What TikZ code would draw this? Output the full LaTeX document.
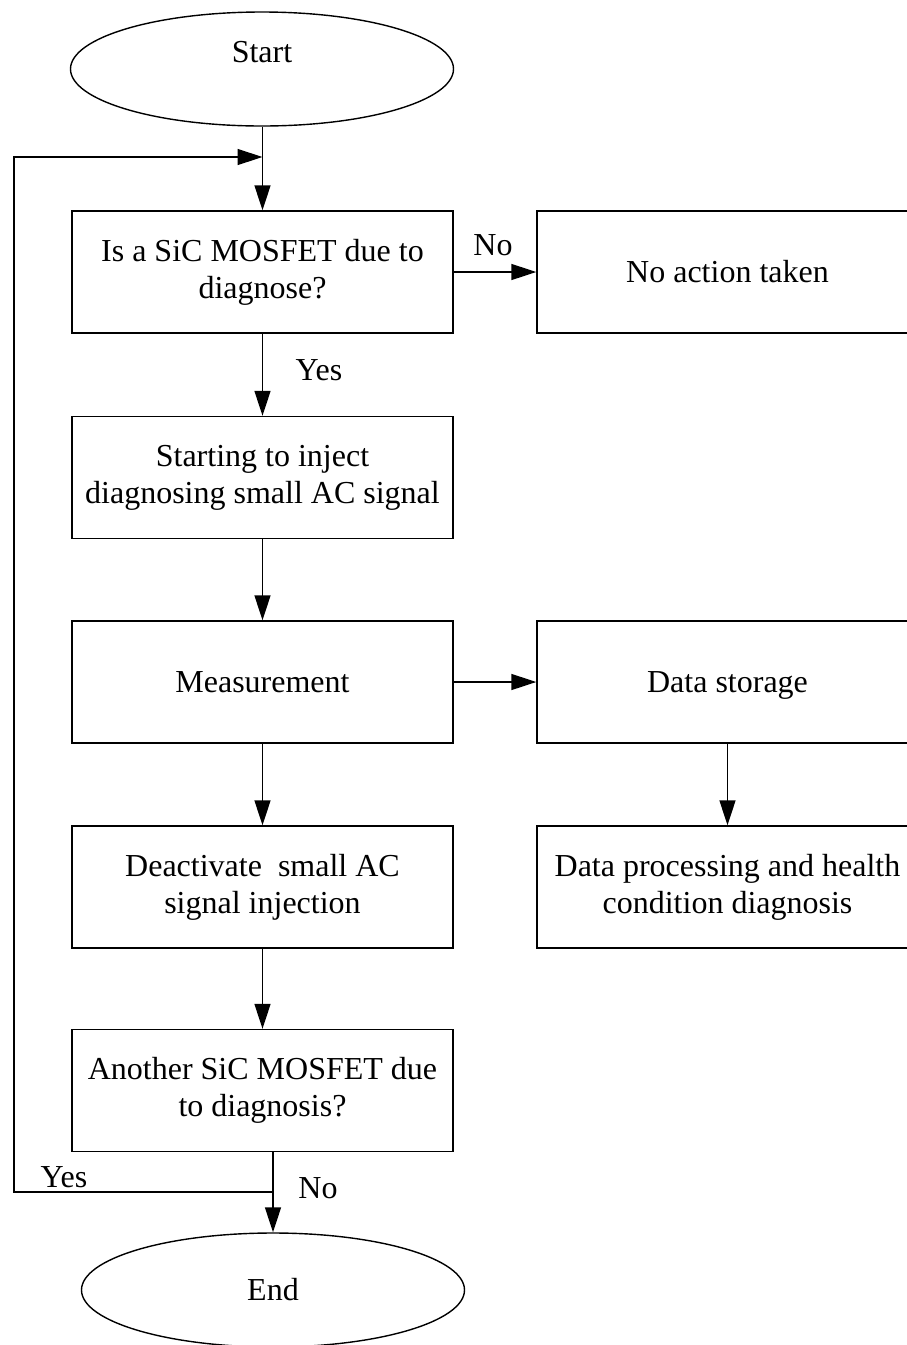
\documentclass[tikz,border=0pt]{standalone}
\usepackage{fontspec}
\setmainfont{Liberation Serif}
\usetikzlibrary{arrows.meta,shapes.geometric}
\begin{document}
\begin{tikzpicture}[x=1pt,y=-1pt,
  every node/.style={font=\fontsize{32}{37}\selectfont},
  proc/.style={draw, line width=1.4pt, minimum width=381pt, minimum height=122pt, align=center, inner sep=0pt},
  oneline/.style={text height=22pt, text depth=1pt},
  term/.style={draw, ellipse, line width=1.4pt, minimum width=383pt, minimum height=114pt, inner sep=0pt},
  flow/.style={line width=1.4pt, -{Triangle[length=25pt,width=16pt]}},
  wire/.style={line width=1.4pt},
  lbl/.style={inner sep=0pt}
]
\useasboundingbox (0,0) rectangle (907,1345);

% terminals and process boxes
\node[term] (start) at (262,69) {};
\node[lbl] (starttxt) at (262,52) {Start};
\node[proc] (q1) at (262.5,272) {Is a SiC MOSFET due to\\diagnose?};
\node[proc, oneline] (noact) at (727.5,272) {No action taken};
\node[proc] (inject) at (262.5,477.5) {Starting to inject\\diagnosing small AC signal};
\node[proc, oneline] (meas) at (262.5,682) {Measurement};
\node[proc, oneline] (store) at (727.5,682) {Data storage};
\node[proc] (deact) at (262.5,887) {Deactivate\ \ small AC\\signal injection};
\node[proc] (dproc) at (727.5,887) {Data processing and health\\condition diagnosis};
\node[proc] (q2) at (262.5,1090.5) {Another SiC MOSFET due\\to diagnosis?};
\node[term, oneline] (end) at (273,1290) {End};

% junction points of the loop-back line
\coordinate (join) at (262.5,157);
\coordinate (split) at (273,1192);
\coordinate (loopbot) at (14,1192);
\coordinate (looptop) at (14,157);

% connectors
\draw[wire] (start.south -| join) -- (join);
\draw[flow] (join) -- (q1.north);
\draw[flow] (q1.east) -- (noact.west);
\draw[flow] (q1.south) -- (inject.north);
\draw[flow] (inject.south) -- (meas.north);
\draw[flow] (meas.east) -- (store.west);
\draw[flow] (store.south) -- (dproc.north);
\draw[flow] (meas.south) -- (deact.north);
\draw[flow] (deact.south) -- (q2.north);
\draw[flow] (q2.south -| end.north) -- (end.north);
\draw[flow] (split) -- (loopbot) -- (looptop) -- (join);

% branch labels
\node[lbl] (no1) at (493,245) {No};
\node[lbl] (yes1) at (319,370) {Yes};
\node[lbl] (yes2) at (64,1177) {Yes};
\node[lbl] (no2) at (318,1188) {No};
\end{tikzpicture}
\end{document}
